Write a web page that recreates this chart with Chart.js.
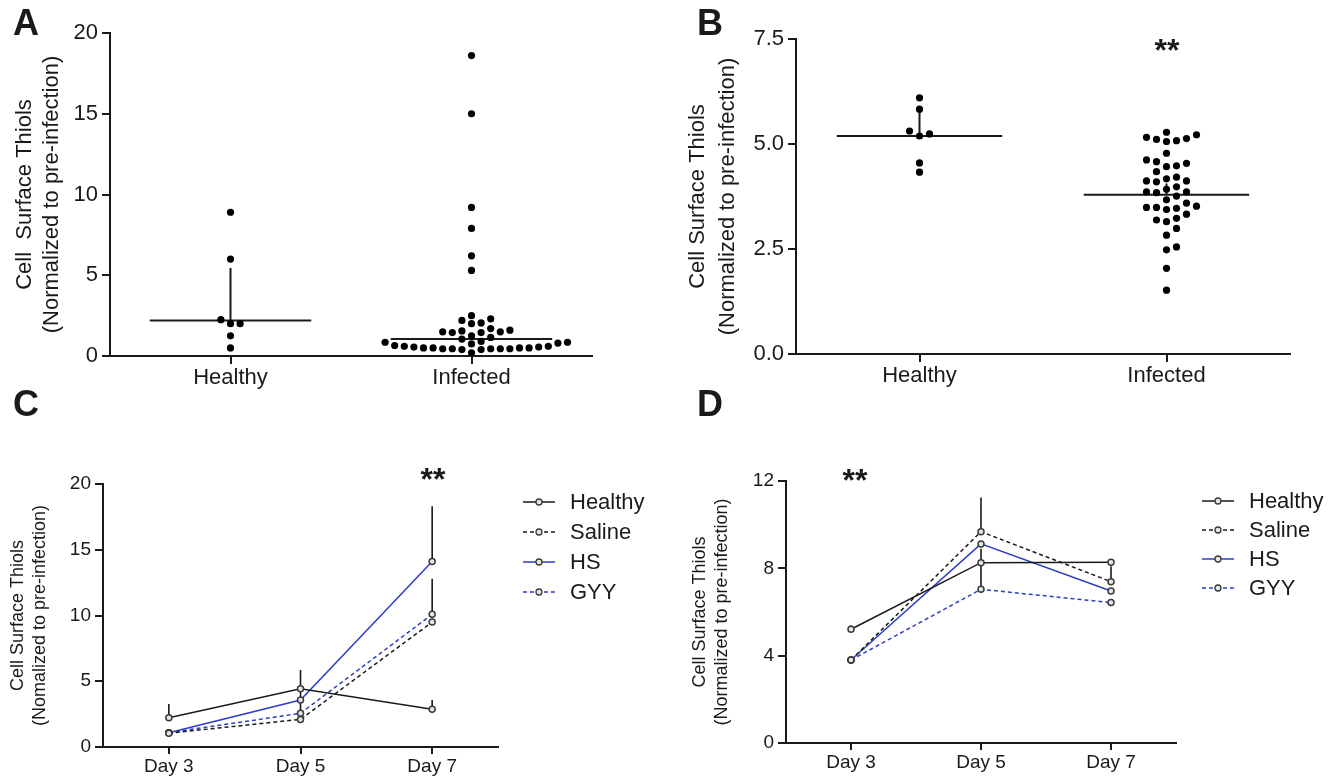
<!DOCTYPE html>
<html>
<head>
<meta charset="utf-8">
<script src="https://cdn.jsdelivr.net/npm/chart.js@4.4.1/dist/chart.umd.min.js"></script>
<style>
  body { margin: 0; background: #fff; }
  #fig { position: relative; width: 1333px; height: 776px; overflow: hidden;
         font-family: 'Liberation Sans', Arial, Helvetica, sans-serif; color: #1a1a1a; }
  canvas { position: absolute; }
  .tag { position: absolute; font-weight: bold; font-size: 36px; line-height: 36px; }
  .stars { position: absolute; font-weight: bold; font-size: 32px; line-height: 32px; transform: translateX(-50%); }
  .legend { position: absolute; font-size: 22px; }
  .legend .row { display: flex; align-items: center; }
  .legend svg { margin-right: 14px; }
</style>
</head>
<body>
<div id="fig">
  <canvas id="cA" width="600" height="400" style="left:0;top:0"></canvas>
  <canvas id="cB" width="653" height="400" style="left:680px;top:0"></canvas>
  <canvas id="cC" width="660" height="376" style="left:0;top:400px"></canvas>
  <canvas id="cD" width="673" height="376" style="left:660px;top:400px"></canvas>

  <div class="tag" style="left:13px;top:5px">A</div>
  <div class="tag" style="left:697px;top:5px">B</div>
  <div class="tag" style="left:13px;top:386px">C</div>
  <div class="tag" style="left:697px;top:386px">D</div>

  <div class="stars" style="left:1167px;top:34px">**</div>
  <div class="stars" style="left:433px;top:463px">**</div>
  <div class="stars" style="left:855px;top:464px">**</div>

  <div class="legend" id="legC" style="left:522px;top:487px"></div>
  <div class="legend" id="legD" style="left:1201px;top:486px"></div>
</div>

<script>
// ---- data ----
const GROUPS = ['Healthy', 'Infected'];

// panel A
const A_HEALTHY = [8.9, 6.0, 2.25, 2.0, 2.0, 1.25, 0.5];
const A_INFECTED = [18.6, 15.0, 9.2, 7.9, 6.2, 5.3, 2.5, 2.3, 2.2, 2.05, 2.0, 1.7, 1.6, 1.55,
  1.5, 1.45, 1.45, 1.5, 1.25, 1.15, 1.05, 0.9, 0.85, 0.8, 0.85, 0.75, 0.6, 0.55, 0.5, 0.5,
  0.45, 0.45, 0.45, 0.4, 0.4, 0.45, 0.45, 0.5, 0.5, 0.55, 0.6, 0.65, 0.2];
const A_MEDIAN = [2.2, 1.05];
const A_UPPER = [5.45, 1.05];
const A_TICKS = [0, 5, 10, 15, 20];

// panel B
const B_HEALTHY = [6.1, 5.83, 5.31, 5.24, 5.19, 4.55, 4.33];
const B_INFECTED = [5.28, 5.16, 5.11, 5.06, 5.08, 5.13, 5.22, 4.78, 4.62, 4.48, 4.58, 4.46,
  4.54, 4.34, 4.17, 4.12, 4.10, 4.12, 4.21, 3.92, 3.86, 3.84, 3.86, 3.98, 3.76, 3.67, 3.52,
  3.44, 3.49, 3.47, 3.49, 3.59, 3.33, 3.23, 3.15, 3.19, 2.99, 2.83, 2.48, 2.55, 2.04, 1.52];
const B_MEDIAN = [5.19, 3.79];
const B_UPPER = [5.83, 4.06];
const B_TICKS = [0, 2.5, 5, 7.5];

// panels C and D
const DAYS = ['Day 3', 'Day 5', 'Day 7'];
const SERIES = ['Healthy', 'Saline', 'HS', 'GYY'];

const C_HEALTHY = [2.23, 4.43, 2.87];
const C_SALINE = [1.05, 2.1, 9.5];
const C_HS = [1.09, 3.57, 14.1];
const C_GYY = [1.09, 2.56, 10.09];
const C_HEALTHY_UP = [3.27, 5.86, 3.57];
const C_SALINE_UP = [1.05, 4.3, 9.5];
const C_HS_UP = [1.09, 3.57, 18.3];
const C_GYY_UP = [1.09, 2.56, 12.8];
const C_TICKS = [0, 5, 10, 15, 20];

const D_HEALTHY = [5.21, 8.26, 8.28];
const D_SALINE = [3.80, 9.68, 7.39];
const D_HS = [3.80, 9.12, 6.96];
const D_GYY = [3.80, 7.04, 6.43];
const D_HEALTHY_UP = [5.39, 8.26, 8.28];
const D_SALINE_UP = [3.80, 11.25, 8.1];
const D_HS_UP = [3.80, 9.12, 6.96];
const D_GYY_UP = [3.80, 8.9, 6.43];
const D_TICKS = [0, 4, 8, 12];

// ---- styling ----
const INK = '#1a1a1a';
const BLUE = '#2b3ec4';
const SERIES_STYLE = [
  { color: INK, dash: false },
  { color: INK, dash: true },
  { color: BLUE, dash: false },
  { color: BLUE, dash: true }
];

Chart.defaults.font.family = "'Liberation Sans', Arial, Helvetica, sans-serif";
Chart.defaults.color = INK;

function yAxis(max, ticks, fmt, tickSize, title, box) {
  return {
    min: 0, max: max,
    afterBuildTicks: s => { s.ticks = ticks.map(v => ({ value: v })); },
    afterFit: s => { s.width = box.yWidth; s.paddingTop = 0; s.paddingBottom = 0; },
    ticks: { font: { size: tickSize }, color: INK, padding: 4, callback: v => fmt(v) },
    grid: { drawOnChartArea: false, tickLength: 8, color: INK, lineWidth: 2 },
    border: { color: INK, width: 2 },
    title: {
      display: true, text: title, color: INK,
      font: { size: box.titleSize, lineHeight: box.titleLH },
      padding: { top: box.titlePad, bottom: 0 }
    }
  };
}

// median line + upper whisker for the dot plots
function summaryPlugin(median, upper) {
  return {
    id: 'summary',
    beforeDatasetsDraw(chart) {
      const { ctx, scales: { x, y } } = chart;
      const half = (x.getPixelForValue(1) - x.getPixelForValue(0)) * 0.335;
      ctx.save();
      ctx.strokeStyle = INK;
      ctx.lineWidth = 2;
      median.forEach((m, i) => {
        const cx = x.getPixelForValue(i);
        const py = y.getPixelForValue(m);
        ctx.beginPath();
        ctx.moveTo(cx - half, py);
        ctx.lineTo(cx + half, py);
        ctx.moveTo(cx, py);
        ctx.lineTo(cx, y.getPixelForValue(upper[i]));
        ctx.stroke();
      });
      ctx.restore();
    }
  };
}

// spread the dots of each group sideways so they do not overlap
function beeswarm(chart, step, gap) {
  const { x, y } = chart.scales;
  chart.data.datasets.forEach((ds, g) => {
    const vals = ds.data.map(p => p.y);
    const cx = x.getPixelForValue(g);
    const order = vals.map((v, i) => i).sort((a, b) => vals[a] - vals[b]);
    const placed = [];
    const out = vals.map(v => ({ x: g, y: v }));
    order.forEach(i => {
      const py = y.getPixelForValue(vals[i]);
      for (let k = 0; k < 60; k++) {
        const px = cx + (k % 2 ? 1 : -1) * Math.ceil(k / 2) * step;
        if (placed.every(p => Math.hypot(p.px - px, p.py - py) >= gap)) {
          placed.push({ px, py });
          out[i] = { x: x.getValueForPixel(px), y: vals[i] };
          break;
        }
      }
    });
    ds.data = out;
  });
  chart.update('none');
}

function dotPanel(id, groups, median, upper, yMax, yTicks, fmt, title, box) {
  const chart = new Chart(document.getElementById(id), {
    type: 'scatter',
    data: {
      datasets: groups.map((vals, g) => ({
        data: vals.map(v => ({ x: g, y: v })),
        pointRadius: 3.6,
        pointBackgroundColor: '#000',
        pointBorderWidth: 0
      }))
    },
    options: {
      responsive: false,
      animation: false,
      layout: { padding: { top: box.top, right: box.right, bottom: 0, left: 0 } },
      plugins: { legend: { display: false }, tooltip: { enabled: false } },
      scales: {
        x: {
          type: 'linear', min: -0.5, max: 1.5,
          afterBuildTicks: s => { s.ticks = GROUPS.map((n, i) => ({ value: i })); },
          afterFit: s => { s.height = box.xHeight; s.paddingLeft = 0; s.paddingRight = 0; },
          ticks: { font: { size: 22 }, color: INK, padding: 1, maxRotation: 0,
                   callback: (v, i) => GROUPS[i] },
          grid: { drawOnChartArea: false, tickLength: 8, color: INK, lineWidth: 2 },
          border: { color: INK, width: 2 }
        },
        y: yAxis(yMax, yTicks, fmt, 22, title, box)
      }
    },
    plugins: [summaryPlugin(median, upper)]
  });
  beeswarm(chart, box.step, box.gap);
  return chart;
}

function errorPlugin(ups, means) {
  return {
    id: 'errbars',
    beforeDatasetsDraw(chart) {
      const { ctx, scales: { x, y } } = chart;
      ctx.save();
      ctx.strokeStyle = INK;
      ctx.lineWidth = 1.6;
      means.forEach((m, s) => {
        m.forEach((v, j) => {
          if (ups[s][j] <= v) return;
          const px = x.getPixelForValue(j);
          ctx.beginPath();
          ctx.moveTo(px, y.getPixelForValue(v));
          ctx.lineTo(px, y.getPixelForValue(ups[s][j]));
          ctx.stroke();
        });
      });
      ctx.restore();
    }
  };
}

function linePanel(id, series, ups, yMax, yTicks, title, box) {
  return new Chart(document.getElementById(id), {
    type: 'line',
    data: {
      labels: DAYS,
      datasets: series.map((d, s) => ({
        label: SERIES[s],
        data: d,
        borderColor: SERIES_STYLE[s].color,
        borderWidth: 1.5,
        borderDash: SERIES_STYLE[s].dash ? [4, 3] : [],
        pointRadius: 3,
        pointBorderWidth: 1.5,
        pointBorderColor: '#3a3a3a',
        pointBackgroundColor: '#e6e6e6',
        tension: 0,
        fill: false
      }))
    },
    options: {
      responsive: false,
      animation: false,
      layout: { padding: { top: box.top, right: box.right, bottom: 0, left: 0 } },
      plugins: { legend: { display: false }, tooltip: { enabled: false } },
      scales: {
        x: {
          type: 'category', offset: true,
          afterFit: s => { s.height = box.xHeight; s.paddingLeft = 0; s.paddingRight = 0; },
          ticks: { font: { size: 19 }, color: INK, padding: 1, maxRotation: 0 },
          grid: { drawOnChartArea: false, offset: false, tickLength: 7, color: INK, lineWidth: 2 },
          border: { color: INK, width: 2 }
        },
        y: yAxis(yMax, yTicks, v => String(v), 19, title, box)
      }
    },
    plugins: [errorPlugin(ups, series)]
  });
}

function buildLegend(id, rowH) {
  const el = document.getElementById(id);
  el.innerHTML = SERIES.map((name, s) => {
    const st = SERIES_STYLE[s];
    return `<div class="row" style="height:${rowH}px">
      <svg width="34" height="12"><line x1="1" y1="6" x2="33" y2="6" stroke="${st.color}" stroke-width="1.5"
        ${st.dash ? 'stroke-dasharray="4,3"' : ''}/><circle cx="17" cy="6" r="3" fill="#e6e6e6" stroke="#3a3a3a" stroke-width="1.3"/></svg>
      <span>${name}</span></div>`;
  }).join('');
}

dotPanel('cA', [A_HEALTHY, A_INFECTED], A_MEDIAN, A_UPPER, 20, A_TICKS, v => String(v),
  ['Cell  Surface Thiols', '(Normalized to pre-infection)'],
  { top: 33, right: 8, xHeight: 44, yWidth: 110, titleSize: 22, titleLH: 1.23, titlePad: 11, step: 9.6, gap: 7.8 });

dotPanel('cB', [B_HEALTHY, B_INFECTED], B_MEDIAN, B_UPPER, 7.5, B_TICKS, v => v.toFixed(1),
  ['Cell Surface Thiols', '(Normalized to pre-infection)'],
  { top: 39, right: 43, xHeight: 46, yWidth: 116, titleSize: 22, titleLH: 1.36, titlePad: 3, step: 10, gap: 9 });

linePanel('cC', [C_HEALTHY, C_SALINE, C_HS, C_GYY], [C_HEALTHY_UP, C_SALINE_UP, C_HS_UP, C_GYY_UP],
  20, C_TICKS, ['Cell Surface Thiols', '(Nomalized to pre-infection)'],
  { top: 84, right: 162, xHeight: 29, yWidth: 103, titleSize: 18, titleLH: 1.22, titlePad: 7 });

linePanel('cD', [D_HEALTHY, D_SALINE, D_HS, D_GYY], [D_HEALTHY_UP, D_SALINE_UP, D_HS_UP, D_GYY_UP],
  12, D_TICKS, ['Cell Surface Thiols', '(Normalized to pre-infection)'],
  { top: 81, right: 157, xHeight: 33, yWidth: 126, titleSize: 18, titleLH: 1.22, titlePad: 29 });

buildLegend('legC', 30);
buildLegend('legD', 29);
</script>
</body>
</html>
